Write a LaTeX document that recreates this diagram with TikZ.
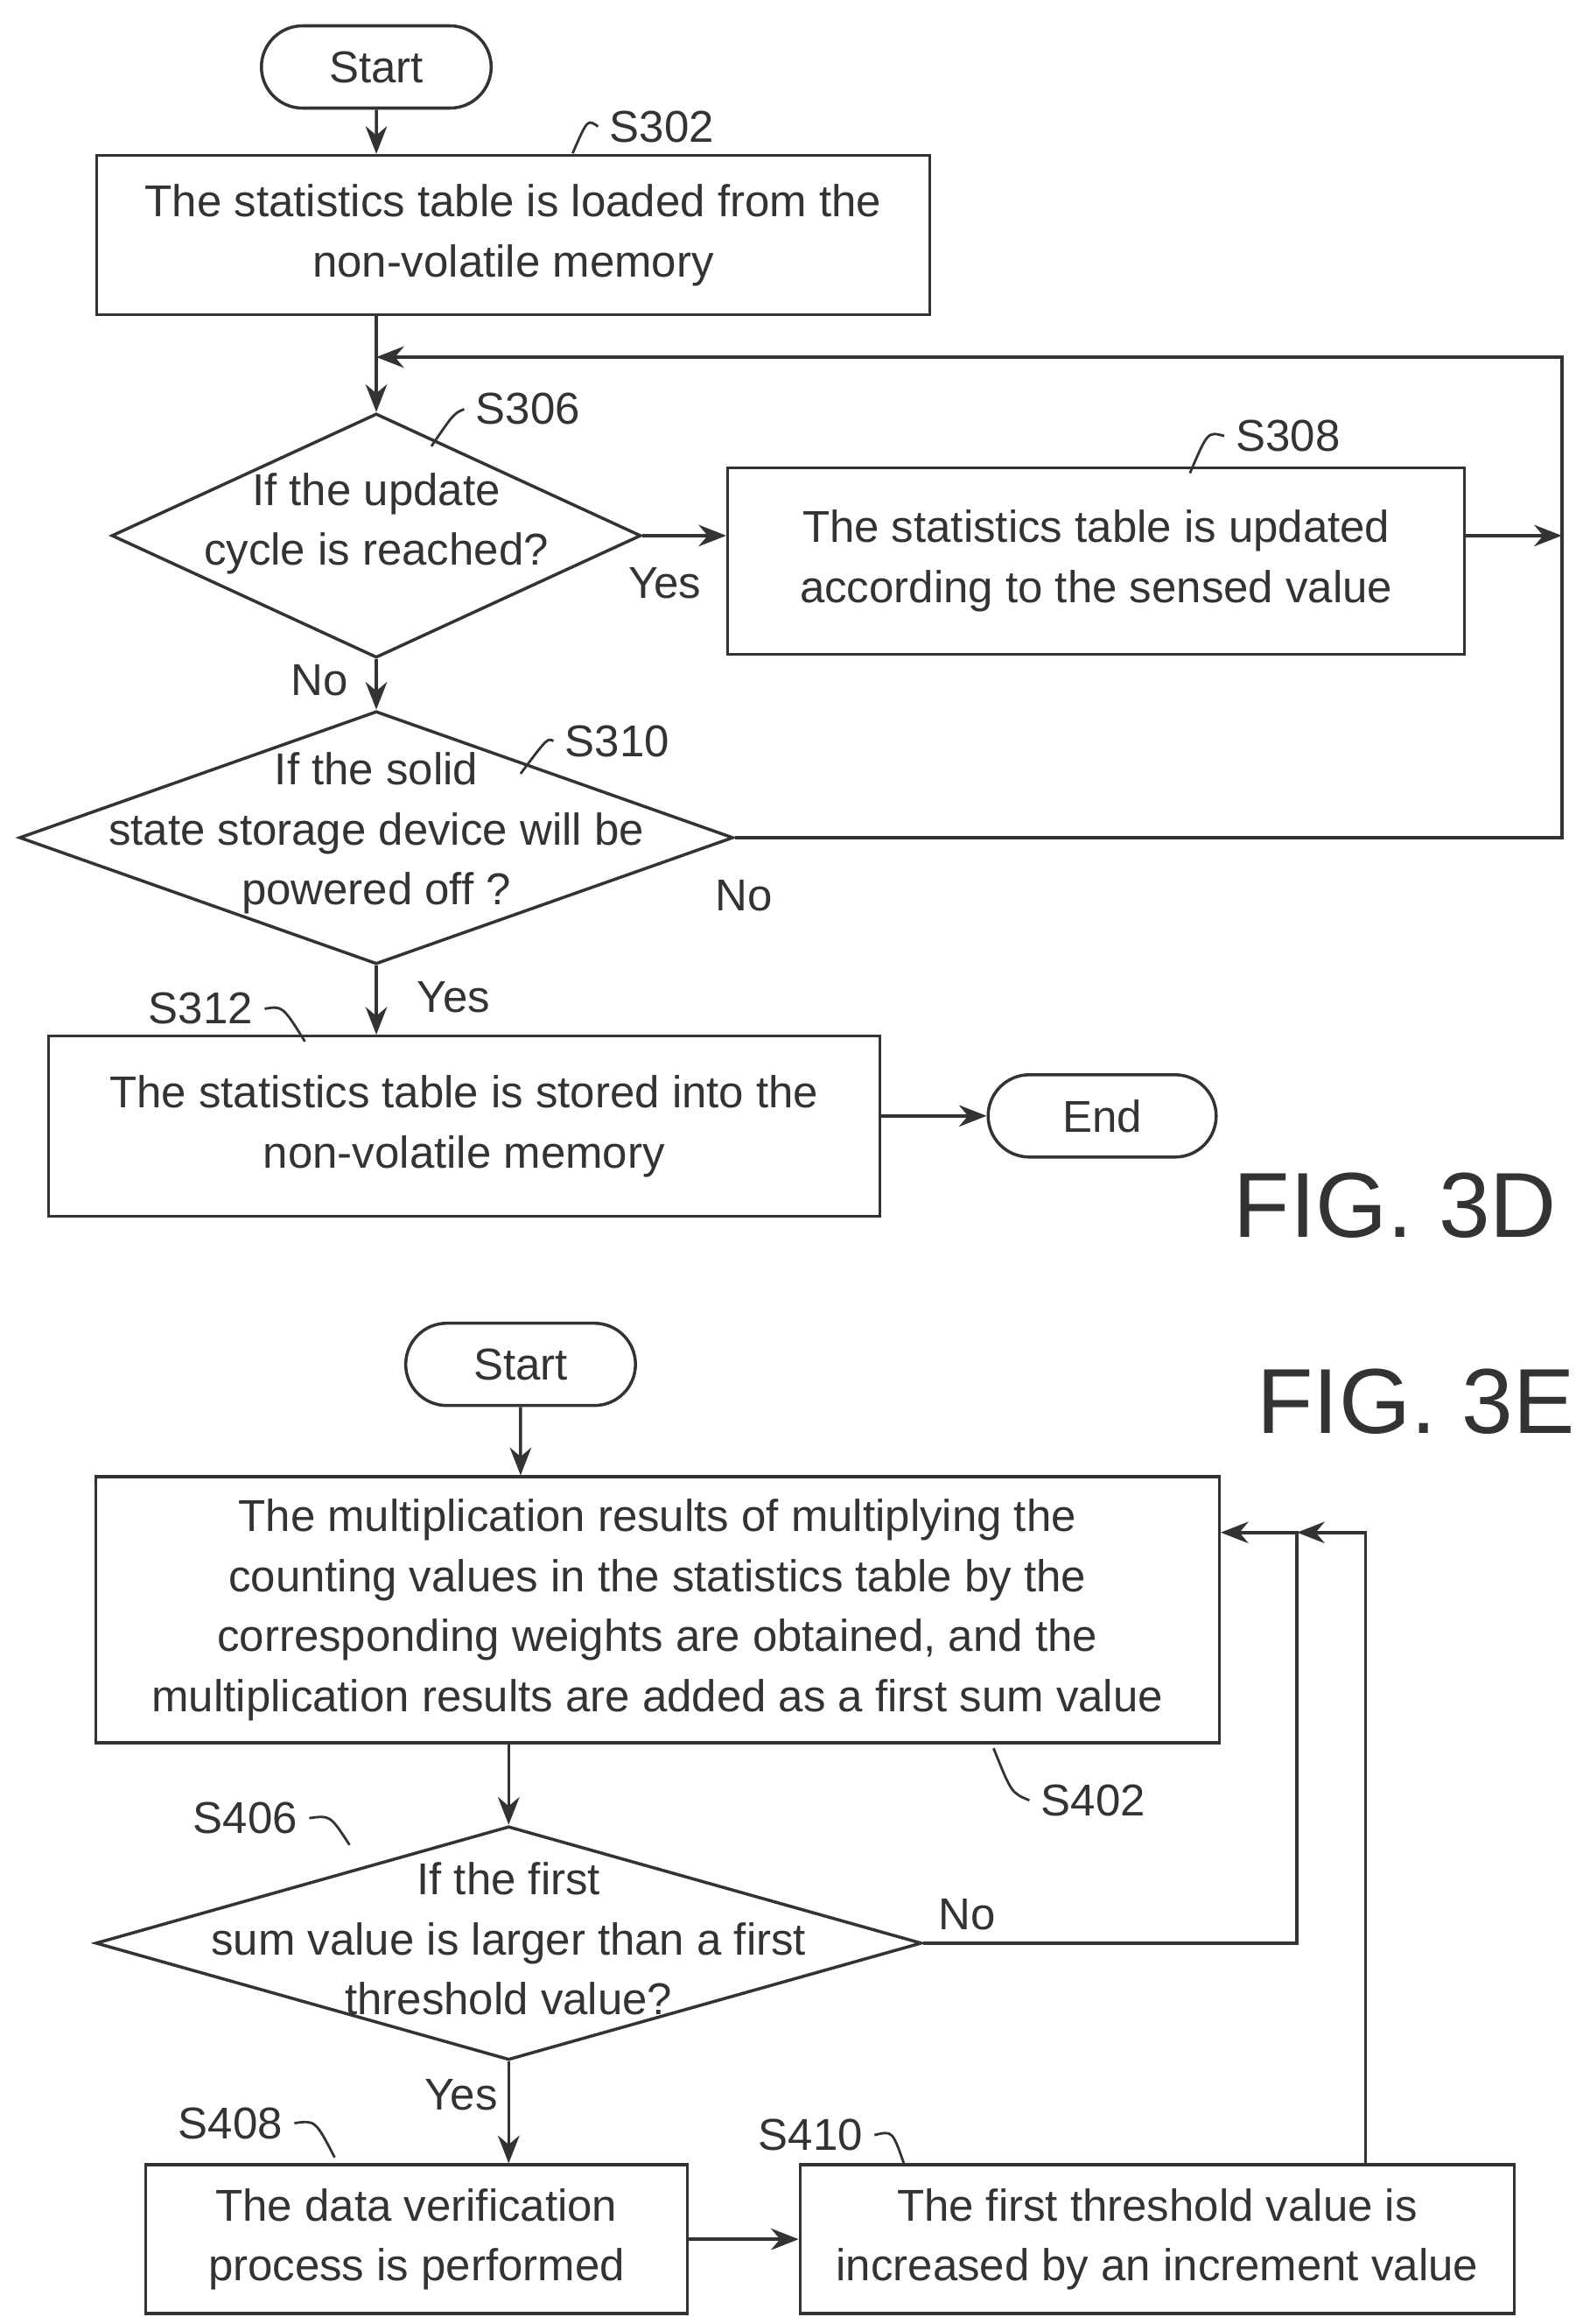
\documentclass[tikz,border=0pt]{standalone}
\usepackage{fontspec}
\setmainfont{Liberation Sans}
\usetikzlibrary{shapes.geometric,shapes.misc,arrows.meta,positioning}
\definecolor{ink}{HTML}{333333}
\begin{document}
\begin{tikzpicture}[x=0.017cm,y=-0.017cm, color=ink, line width=1pt,
  >={Stealth[length=9pt,width=7pt]},
  txt/.style={font=\fontsize{14.5}{19.5}\selectfont, align=center},
  box/.style={draw, rectangle, inner sep=0pt, txt},
  term/.style={draw, rounded rectangle, minimum width=2.86cm, minimum height=0.94cm, txt},
  dec/.style={draw, diamond, inner sep=0pt},
  lbl/.style={font=\fontsize{14.5}{17}\selectfont},
  lead/.style={line width=0.8pt}]
\useasboundingbox (0,0) rectangle (1059,1562);
% FIG. 3D
\node[term] (s1) at (253,45) {Start};
\node[box, minimum width=9.52cm, minimum height=1.82cm] (b302) at (345,158) {The statistics table is loaded from the\\non-volatile memory};
\node[dec, minimum width=6.05cm, minimum height=2.79cm] (d306) at (253,360) {};
\node[txt] (t306) at (253,352) {If the update\\cycle is reached?};
\node[box, minimum width=8.42cm, minimum height=2.13cm] (b308) at (737,377) {The statistics table is updated\\according to the sensed value};
\node[dec, minimum width=8.16cm, minimum height=2.89cm] (d310) at (253,563) {};
\node[txt] (t310) at (253,560) {If the solid\\state storage device will be\\powered off ?};
\node[box, minimum width=9.5cm, minimum height=2.06cm] (b312) at (312,757) {The statistics table is stored into the\\non-volatile memory};
\node[term, minimum width=2.84cm] (e1) at (741,750) {End};
\coordinate (j1) at (253,240);
\coordinate (r1) at (1050,240);
\coordinate (r2) at (1050,563);
\draw[->] (s1) -- (s1.south |- b302.north);
\draw[->] (d306.north |- b302.south) -- (d306.north);
\draw[->] (d306.east) -- (d306.east -| b308.west);
\draw[->] (b308.east |- d306.east) -- (r1 |- d306.east);
\draw[->] (d310.east) -- (r2) -- (r1) -- (j1);
\draw[->] (d306.south) -- (d310.north);
\draw[->] (d310.south) -- (d310.south |- b312.north);
\draw[->] (b312.east |- e1) -- (e1.west);
\node[lbl] at (447,392) {Yes};
\node[lbl] at (215,457) {No};
\node[lbl] at (500,602) {No};
\node[lbl] at (305,670) {Yes};
\node[lbl] (l302) at (445,85) {S302};
\node[lbl] (l306) at (355,275) {S306};
\node[lbl] (l308) at (866,293) {S308};
\node[lbl] (l310) at (415,498) {S310};
\node[lbl] (l312) at (135,678) {S312};
\draw[lead] (l302.west) .. controls (395,80) .. (385,103);
\draw[lead] (l306.west) .. controls (305,278) .. (290,300);
\draw[lead] (l308.west) .. controls (812,290) .. (800,318);
\draw[lead] (l310.west) .. controls (368,496) .. (350,520);
\draw[lead] (l312.east) .. controls (190,676) .. (205,700);
\node[font=\fontsize{30}{30}\selectfont] (f3d) at (938,810) {FIG. 3D};
% FIG. 3E
\node[term] (s2) at (350,917) {Start};
\node[font=\fontsize{30}{30}\selectfont] (f3e) at (952,942) {FIG. 3E};
\node[box, minimum width=12.84cm, minimum height=3.04cm] (b402) at (442,1082) {The multiplication results of multiplying the\\counting values in the statistics table by the\\corresponding weights are obtained, and the\\multiplication results are added as a first sum value};
\node[dec, minimum width=9.44cm, minimum height=2.67cm] (d406) at (342,1306) {};
\node[txt] (t406) at (342,1303) {If the first\\sum value is larger than a first\\threshold value?};
\node[box, minimum width=6.19cm, minimum height=1.7cm] (b408) at (280,1505) {The data verification\\process is performed};
\node[box, minimum width=8.16cm, minimum height=1.7cm] (b410) at (778,1505) {The first threshold value is\\increased by an increment value};
\coordinate (j2) at (872,1030);
\coordinate (j3) at (918,1030);
\draw[->] (s2) -- (s2.south |- b402.north);
\draw[->] (d406.north |- b402.south) -- (d406.north);
\draw[->] (d406.east) -- (d406.east -| j2) -- (j2) -- (b402.east |- j2);
\draw[->] (b410.north -| j3) -- (j3) -- (j2);
\draw[->] (d406.south) -- (d406.south |- b408.north);
\draw[->] (b408.east) -- (b410.west);
\node[lbl] at (650,1287) {No};
\node[lbl] at (310,1408) {Yes};
\node[lbl] (l402) at (735,1210) {S402};
\node[lbl] (l406) at (165,1222) {S406};
\node[lbl] (l408) at (155,1427) {S408};
\node[lbl] (l410) at (545,1435) {S410};
\draw[lead] (l402.west) .. controls (680,1205) .. (668,1175);
\draw[lead] (l406.east) .. controls (222,1220) .. (235,1240);
\draw[lead] (l408.east) .. controls (212,1425) .. (225,1450);
\draw[lead] (l410.east) .. controls (600,1432) .. (608,1455);
\end{tikzpicture}
\end{document}
